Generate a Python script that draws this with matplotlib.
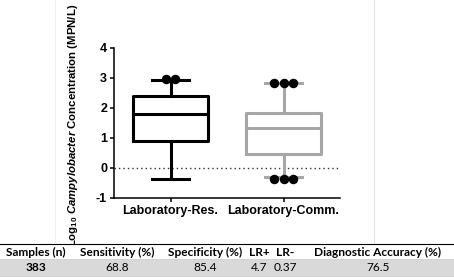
import matplotlib.pyplot as plt
from matplotlib.patches import Rectangle
from matplotlib.lines import Line2D

plt.rcParams['mathtext.fontset'] = 'custom'
plt.rcParams['mathtext.rm'] = 'Liberation Sans:bold'
plt.rcParams['mathtext.it'] = 'Liberation Sans:italic:bold'
plt.rcParams['mathtext.bf'] = 'Liberation Sans:bold'

# box plot summary values (log10 MPN/L)
groups = ['Laboratory-Res.', 'Laboratory-Comm.']
whislo = [-0.37, -0.29]
q1 = [0.91, 0.48]
med = [1.80, 1.35]
q3 = [2.41, 1.85]
whishi = [2.95, 2.83]
high_points = [[2.97, 2.97], [2.82, 2.82, 2.82]]
low_points = [[], [-0.38, -0.38, -0.38]]
box_colors = ['#000000', '#a6a6a6']
yticks = [-1, 0, 1, 2, 3, 4]

# summary table
tbl_headers = ['Samples (n)', 'Sensitivity (%)', 'Specificity (%)', 'LR+', 'LR-', 'Diagnostic Accuracy (%)']
tbl_values = ['383', '68.8', '85.4', '4.7', '0.37', '76.5']
tbl_xpos = [36, 117, 205, 259, 285, 378]

W, H = 454, 280
fig = plt.figure(figsize=(W / 100, H / 100), dpi=100)
ax = fig.add_axes([114 / W, 1 - 198 / H, 226 / W, 150 / H])

stats = []
for i in range(len(groups)):
    stats.append({'whislo': whislo[i], 'q1': q1[i], 'med': med[i], 'q3': q3[i],
                  'whishi': whishi[i], 'fliers': []})

positions = [1, 2]
for i in range(len(groups)):
    c = box_colors[i]
    ax.bxp([stats[i]], positions=[positions[i]], widths=0.67, capwidths=0.32,
           showfliers=False, patch_artist=False,
           boxprops=dict(color=c, linewidth=2.2),
           medianprops=dict(color=c, linewidth=2.2),
           whiskerprops=dict(color=c, linewidth=2.2),
           capprops=dict(color=c, linewidth=2.2))
    for pts in (high_points[i], low_points[i]):
        n = len(pts)
        offs = [(k - (n - 1) / 2) * 0.08 for k in range(n)]
        ax.plot([positions[i] + o for o in offs], pts, 'o', color='black',
                markersize=5.8, zorder=5, clip_on=False)

ax.axhline(0, color='#333333', linestyle=(0, (1, 2.2)), linewidth=1.0, zorder=0)

ax.set_xlim(0.5, 2.5)
ax.set_ylim(-1, 4)
ax.set_yticks(yticks)
ax.set_yticklabels([str(t) for t in yticks], fontsize=9, fontweight='bold',
                   family='Liberation Sans')
ax.set_xticks(positions)
ax.set_xticklabels(groups, fontsize=9, fontweight='bold', family='Liberation Sans')
ax.tick_params(axis='both', width=1.1, length=3, pad=2)
ax.spines['top'].set_visible(False)
ax.spines['right'].set_visible(False)
for s in ('left', 'bottom'):
    ax.spines[s].set_linewidth(1.1)
ax.set_ylabel(r'Log$_{10}$ $Campylobacter$ Concentration (MPN/L)', fontsize=8.2,
              fontweight='bold', family='Liberation Sans')
ax.yaxis.set_label_coords(-0.15, 0.487)

# faint panel edges
fig.add_artist(Line2D([374 / W, 374 / W], [1, 1 - 244 / H], color='#e3e3e3', linewidth=0.8))
fig.add_artist(Line2D([55 / W, 55 / W], [1, 1 - 244 / H], color='#efefef', linewidth=0.8))

# table area: white cover, rules, shaded data row
fig.add_artist(Rectangle((0, 0), 1, 1 - 244 / H, transform=fig.transFigure,
                         facecolor='white', edgecolor='none', zorder=2))
fig.add_artist(Rectangle((0, 1 - 275.5 / H), 1, 16 / H, transform=fig.transFigure,
                         facecolor='#d9d9d9', edgecolor='none', zorder=3))
fig.add_artist(Line2D([0, 1], [1 - 244 / H] * 2, color='black', linewidth=0.8, zorder=4))
fig.add_artist(Line2D([0, 1], [1 - 259.3 / H] * 2, color='#bfbfbf', linewidth=0.5, zorder=4))
fig.add_artist(Line2D([0, 1], [1 - 275.5 / H] * 2, color='#bfbfbf', linewidth=0.5, zorder=4))

for i in range(len(tbl_headers)):
    fig.text(tbl_xpos[i] / W, 1 - 252.5 / H, tbl_headers[i], ha='center', va='center',
             fontsize=8.6, fontweight='bold', family='Lato', zorder=5)
    fig.text(tbl_xpos[i] / W, 1 - 267.5 / H, tbl_values[i], ha='center', va='center',
             fontsize=8.6, fontweight='bold' if i == 0 else 'normal', family='Lato', zorder=5)

fig.savefig('out.png', dpi=100)
